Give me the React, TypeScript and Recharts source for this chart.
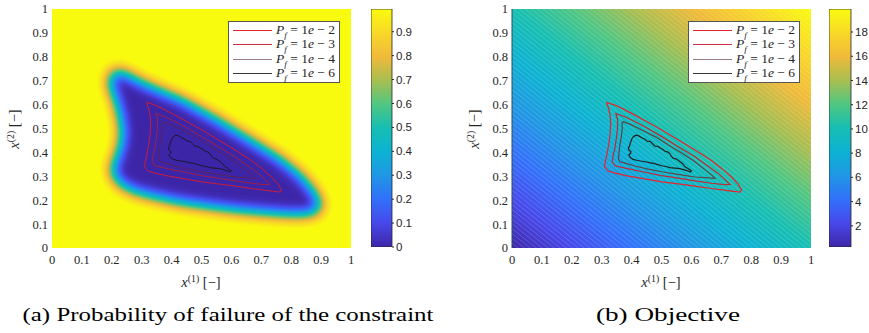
import React from "react";
import { ScatterChart, Scatter, XAxis, YAxis, ReferenceArea, BarChart, Bar } from "recharts";

// axis ticks of both maps
const axisTicks = [0, 0.1, 0.2, 0.3, 0.4, 0.5, 0.6, 0.7, 0.8, 0.9, 1];
// colorbar ticks
const pfTicks = [0, 0.1, 0.2, 0.3, 0.4, 0.5, 0.6, 0.7, 0.8, 0.9];
const objTicks = [2, 4, 6, 8, 10, 12, 14, 16, 18];
const pfBar = [{ k: "Pf", lo: 0, hi: 0.995 }];
const objBar = [{ k: "obj", lo: 0.25, hi: 19.9 }];

// contour levels shown in the legends (P_f = 1e - n)
const levels = ["2", "3", "4", "6"];

const captions = [
  { text: "(a) Probability of failure of the constraint", x: 22.5, len: 411 },
  { text: "(b) Objective", x: 596, len: 144 },
];

// outline of the low failure-probability region (left map, P_f ~ 0.5)
const lowPfRegion = [
  { x: 0.19, y: 0.7 }, { x: 0.2, y: 0.735 }, { x: 0.225, y: 0.745 }, { x: 0.25, y: 0.73 },
  { x: 0.3, y: 0.697 }, { x: 0.35, y: 0.668 }, { x: 0.44, y: 0.62 }, { x: 0.55, y: 0.543 },
  { x: 0.66, y: 0.458 }, { x: 0.76, y: 0.38 }, { x: 0.83, y: 0.31 }, { x: 0.875, y: 0.245 },
  { x: 0.9, y: 0.19 }, { x: 0.895, y: 0.155 }, { x: 0.865, y: 0.138 }, { x: 0.8, y: 0.136 },
  { x: 0.72, y: 0.143 }, { x: 0.63, y: 0.153 }, { x: 0.54, y: 0.166 }, { x: 0.43, y: 0.186 },
  { x: 0.34, y: 0.21 }, { x: 0.275, y: 0.232 }, { x: 0.23, y: 0.26 }, { x: 0.205, y: 0.295 },
  { x: 0.198, y: 0.33 }, { x: 0.21, y: 0.37 }, { x: 0.227, y: 0.43 }, { x: 0.232, y: 0.48 },
  { x: 0.226, y: 0.54 }, { x: 0.212, y: 0.61 }, { x: 0.197, y: 0.66 },
];

// P_f = 1e-2 contour
const contour2 = [
  { x: 0.317, y: 0.609 }, { x: 0.344, y: 0.598 }, { x: 0.375, y: 0.58 }, { x: 0.411, y: 0.556 },
  { x: 0.455, y: 0.526 }, { x: 0.501, y: 0.494 }, { x: 0.555, y: 0.453 }, { x: 0.612, y: 0.41 },
  { x: 0.66, y: 0.372 }, { x: 0.701, y: 0.333 }, { x: 0.735, y: 0.296 }, { x: 0.757, y: 0.266 },
  { x: 0.768, y: 0.242 }, { x: 0.762, y: 0.234 }, { x: 0.723, y: 0.24 }, { x: 0.667, y: 0.249 },
  { x: 0.612, y: 0.259 }, { x: 0.556, y: 0.268 }, { x: 0.501, y: 0.277 }, { x: 0.445, y: 0.289 },
  { x: 0.389, y: 0.301 }, { x: 0.345, y: 0.313 }, { x: 0.322, y: 0.322 }, { x: 0.309, y: 0.34 },
  { x: 0.312, y: 0.36 }, { x: 0.317, y: 0.389 }, { x: 0.323, y: 0.43 }, { x: 0.328, y: 0.473 },
  { x: 0.33, y: 0.52 }, { x: 0.328, y: 0.556 }, { x: 0.323, y: 0.585 }, { x: 0.318, y: 0.6 },
];

// P_f = 1e-3 contour
const contour3 = [
  { x: 0.347, y: 0.563 }, { x: 0.38, y: 0.548 }, { x: 0.411, y: 0.529 }, { x: 0.455, y: 0.5 },
  { x: 0.501, y: 0.466 }, { x: 0.555, y: 0.425 }, { x: 0.612, y: 0.382 }, { x: 0.655, y: 0.343 },
  { x: 0.69, y: 0.312 }, { x: 0.715, y: 0.283 }, { x: 0.729, y: 0.266 }, { x: 0.71, y: 0.265 },
  { x: 0.668, y: 0.271 }, { x: 0.612, y: 0.281 }, { x: 0.556, y: 0.292 }, { x: 0.5, y: 0.303 },
  { x: 0.445, y: 0.317 }, { x: 0.39, y: 0.331 }, { x: 0.344, y: 0.344 }, { x: 0.335, y: 0.361 },
  { x: 0.338, y: 0.385 }, { x: 0.344, y: 0.417 }, { x: 0.349, y: 0.46 }, { x: 0.353, y: 0.501 },
  { x: 0.353, y: 0.54 },
];

// P_f = 1e-4 contour
const contour4 = [
  { x: 0.372, y: 0.529 }, { x: 0.4, y: 0.515 }, { x: 0.434, y: 0.494 }, { x: 0.48, y: 0.465 },
  { x: 0.523, y: 0.431 }, { x: 0.57, y: 0.395 }, { x: 0.612, y: 0.361 }, { x: 0.645, y: 0.328 },
  { x: 0.668, y: 0.305 }, { x: 0.679, y: 0.292 }, { x: 0.66, y: 0.293 }, { x: 0.612, y: 0.297 },
  { x: 0.555, y: 0.308 }, { x: 0.501, y: 0.319 }, { x: 0.455, y: 0.33 }, { x: 0.411, y: 0.343 },
  { x: 0.375, y: 0.356 }, { x: 0.361, y: 0.361 }, { x: 0.356, y: 0.372 }, { x: 0.358, y: 0.4 },
  { x: 0.361, y: 0.431 }, { x: 0.366, y: 0.47 }, { x: 0.369, y: 0.501 }, { x: 0.368, y: 0.522 },
];

// P_f = 1e-6 contour (noisy)
const contour6 = [
  { x: 0.406, y: 0.466 }, { x: 0.415, y: 0.472 }, { x: 0.424, y: 0.469 }, { x: 0.432, y: 0.462 },
  { x: 0.445, y: 0.455 }, { x: 0.452, y: 0.447 }, { x: 0.462, y: 0.446 }, { x: 0.47, y: 0.436 },
  { x: 0.478, y: 0.426 }, { x: 0.488, y: 0.425 }, { x: 0.495, y: 0.419 }, { x: 0.505, y: 0.412 },
  { x: 0.512, y: 0.405 }, { x: 0.52, y: 0.402 }, { x: 0.528, y: 0.395 }, { x: 0.532, y: 0.385 },
  { x: 0.539, y: 0.376 }, { x: 0.548, y: 0.373 }, { x: 0.556, y: 0.367 }, { x: 0.563, y: 0.36 },
  { x: 0.57, y: 0.354 }, { x: 0.575, y: 0.346 }, { x: 0.579, y: 0.34 }, { x: 0.587, y: 0.334 },
  { x: 0.595, y: 0.327 }, { x: 0.6, y: 0.322 }, { x: 0.596, y: 0.318 }, { x: 0.588, y: 0.322 },
  { x: 0.579, y: 0.326 }, { x: 0.568, y: 0.33 }, { x: 0.556, y: 0.333 }, { x: 0.545, y: 0.334 },
  { x: 0.528, y: 0.336 }, { x: 0.515, y: 0.341 }, { x: 0.501, y: 0.344 }, { x: 0.488, y: 0.349 },
  { x: 0.473, y: 0.354 }, { x: 0.46, y: 0.357 }, { x: 0.445, y: 0.361 }, { x: 0.43, y: 0.364 },
  { x: 0.417, y: 0.367 }, { x: 0.405, y: 0.371 }, { x: 0.398, y: 0.376 }, { x: 0.393, y: 0.383 },
  { x: 0.391, y: 0.39 }, { x: 0.397, y: 0.397 }, { x: 0.398, y: 0.404 }, { x: 0.391, y: 0.41 },
  { x: 0.389, y: 0.418 }, { x: 0.393, y: 0.426 }, { x: 0.395, y: 0.437 }, { x: 0.398, y: 0.447 },
  { x: 0.401, y: 0.457 },
];

const contours = [contour2, contour3, contour4, contour6];
const legendColors = ["#e8222c", "#cc3040", "#9a7a7e", "#383838"];
const lineColorsPf = ["#d81c2c", "#a8203c", "#5c2250", "#161616"];
const lineColorsObj = ["#e8222c", "#c02834", "#5a4448", "#202020"];

// parula colour map, 11 stops
const parulaR = [62, 71, 50, 32, 12, 22, 80, 168, 240, 248, 249];
const parulaG = [38, 72, 112, 150, 178, 190, 198, 190, 186, 216, 251];
const parulaB = [168, 234, 250, 228, 210, 178, 130, 80, 58, 40, 14];
const parulaHex = parulaR.map(
  (r, i) => "#" + [r, parulaG[i], parulaB[i]].map((c) => c.toString(16).padStart(2, "0")).join("")
);
const table = (arr: number[]) => arr.map((c) => (c / 255).toFixed(3)).join(" ");

const SERIF = "'Liberation Serif', 'DejaVu Serif', serif";
const SANS = "'Liberation Sans', Arial, sans-serif";
const INK = "#262626";

const noDot = () => null;

function Defs() {
  return (
    <svg width={0} height={0} style={{ position: "absolute" }}>
      <defs>
        <linearGradient id="parulaV" x1="0" y1="1" x2="0" y2="0">
          {parulaHex.map((c, i) => (
            <stop key={i} offset={i / 10} stopColor={c} />
          ))}
        </linearGradient>
        <linearGradient id="objGrad" x1="0" y1="1" x2="1" y2="0">
          {parulaHex.map((c, i) => (
            <stop key={i} offset={i / 10} stopColor={c} />
          ))}
        </linearGradient>
        <pattern id="objHatch" patternUnits="userSpaceOnUse" width="6" height="4.796">
          <path
            d="M-6,-4.796L12,9.592M0,-4.796L18,9.592M-12,-4.796L6,9.592"
            stroke="#ffffff"
            strokeOpacity={0.32}
            strokeWidth={0.6}
          />
        </pattern>
        <filter id="pfBlob" x="-30%" y="-30%" width="160%" height="160%" colorInterpolationFilters="sRGB">
          <feGaussianBlur in="SourceAlpha" stdDeviation="7" />
          <feColorMatrix type="matrix" values="0 0 0 -1 1  0 0 0 -1 1  0 0 0 -1 1  0 0 0 1 0" />
          <feComponentTransfer>
            <feFuncR type="table" tableValues={table(parulaR)} />
            <feFuncG type="table" tableValues={table(parulaG)} />
            <feFuncB type="table" tableValues={table(parulaB)} />
            <feFuncA type="linear" slope="25" intercept="0" />
          </feComponentTransfer>
        </filter>
      </defs>
    </svg>
  );
}

const blobLine = (p: any) => (
  <g filter="url(#pfBlob)">
    <polygon points={p.points.map((pt: any) => `${pt.x},${pt.y}`).join(" ")} fill="#000" stroke="none" />
  </g>
);

function MathLabel({ idx }: { idx: number }) {
  return (
    <span>
      <i>x</i>
      <span style={{ fontSize: "0.68em", verticalAlign: "0.5em", lineHeight: 0 }}>({idx})</span> [−]
    </span>
  );
}

function Legend({ left, top }: { left: number; top: number }) {
  return (
    <div
      style={{
        position: "absolute", left, top, width: 110, height: 60, background: "#fff",
        border: "1px solid #555", fontFamily: SERIF, fontSize: 13.5, color: INK,
      }}
    >
      {levels.map((lv, i) => (
        <div key={lv} style={{ position: "absolute", left: 0, top: 1 + i * 14.4, height: 14, width: 110 }}>
          <div style={{ position: "absolute", left: 4, top: 7, width: 39, height: 0, borderTop: `1.2px solid ${legendColors[i]}` }} />
          <div style={{ position: "absolute", left: 47, top: -1, whiteSpace: "nowrap", lineHeight: "15px" }}>
            <i>P</i>
            <sub style={{ fontSize: "0.68em", lineHeight: 0 }}><i>f</i></sub> = 1<i>e</i> − {lv}
          </div>
        </div>
      ))}
    </div>
  );
}

function MapChart({ kind }: { kind: "pf" | "obj" }) {
  const tickStyle = { fill: INK, fontSize: 12.5, fontFamily: SERIF };
  const lw = kind === "pf" ? 0.9 : 1.2;
  const colors = kind === "pf" ? lineColorsPf : lineColorsObj;
  return (
    <ScatterChart width={360} height={300} margin={{ top: 9, right: 9, bottom: 22, left: 12 }}>
      <XAxis type="number" dataKey="x" domain={[0, 1]} allowDataOverflow ticks={axisTicks}
        tickSize={0} tickMargin={7} axisLine={false} height={30} tick={tickStyle} />
      <YAxis type="number" dataKey="y" domain={[0, 1]} allowDataOverflow ticks={axisTicks}
        tickSize={0} tickMargin={4} width={40} tick={tickStyle}
        axisLine={kind === "obj" ? { stroke: "#24505a", strokeWidth: 1 } : false} />
      {kind === "pf" ? (
        <ReferenceArea x1={0} x2={1} y1={0} y2={1} fill={parulaHex[10]} fillOpacity={1} stroke="none" />
      ) : (
        <ReferenceArea x1={0} x2={1} y1={0} y2={1} fill="url(#objGrad)" fillOpacity={1} stroke="none" />
      )}
      {kind === "obj" && (
        <ReferenceArea x1={0} x2={1} y1={0} y2={1} fill="url(#objHatch)" fillOpacity={1} stroke="none" />
      )}
      {kind === "pf" && (
        <Scatter data={lowPfRegion} shape={noDot} line={blobLine} isAnimationActive={false} />
      )}
      {contours.map((c, i) => (
        <Scatter key={i} data={c} shape={noDot} lineJointType="linearClosed"
          line={{ stroke: colors[i], strokeWidth: lw }} isAnimationActive={false} />
      ))}
    </ScatterChart>
  );
}

function ColorBar({ data, ticks, width, axisW }: { data: any[]; ticks: number[]; width: number; axisW: number }) {
  return (
    <BarChart width={width} height={300} data={data} margin={{ top: 9, right: 0, bottom: 53, left: 0 }} barCategoryGap={0}>
      <XAxis dataKey="k" hide />
      <YAxis orientation="right" type="number" width={axisW} domain={[data[0].lo, data[0].hi]} allowDataOverflow
        ticks={ticks} tickSize={2} tickMargin={2} axisLine={false} tickLine={{ stroke: INK }}
        tick={{ fill: INK, fontSize: 11.5, fontFamily: SANS }} />
      <Bar dataKey={(d: any) => [d.lo, d.hi]} fill="url(#parulaV)" stroke={INK} strokeWidth={0.8} isAnimationActive={false} />
    </BarChart>
  );
}

export default function App() {
  const axisTitle = { position: "absolute" as const, fontFamily: SERIF, fontSize: 14.5, color: INK, whiteSpace: "nowrap" as const };
  return (
    <div style={{ position: "absolute", left: 0, top: 0, width: 869, height: 333, background: "#fff", overflow: "hidden" }}>
      <Defs />
      <div style={{ position: "absolute", left: 0, top: 0 }}>
        <MapChart kind="pf" />
      </div>
      <div style={{ position: "absolute", left: 460, top: 0 }}>
        <MapChart kind="obj" />
      </div>
      <div style={{ position: "absolute", left: 371, top: 0 }}>
        <ColorBar data={pfBar} ticks={pfTicks} width={60} axisW={39} />
      </div>
      <div style={{ position: "absolute", left: 829, top: 0 }}>
        <ColorBar data={objBar} ticks={objTicks} width={40} axisW={18} />
      </div>
      <Legend left={228} top={21} />
      <Legend left={688} top={21} />

      <div style={{ ...axisTitle, left: 201, top: 282, transform: "translate(-50%,-50%)" }}>
        <MathLabel idx={1} />
      </div>
      <div style={{ ...axisTitle, left: 661, top: 282, transform: "translate(-50%,-50%)" }}>
        <MathLabel idx={1} />
      </div>
      <div style={{ ...axisTitle, left: 14, top: 129, transform: "translate(-50%,-50%) rotate(-90deg)" }}>
        <MathLabel idx={2} />
      </div>
      <div style={{ ...axisTitle, left: 474, top: 129, transform: "translate(-50%,-50%) rotate(-90deg)" }}>
        <MathLabel idx={2} />
      </div>

      <svg width={869} height={37} style={{ position: "absolute", left: 0, top: 296 }}>
        {captions.map((c) => (
          <text key={c.text} x={c.x} y={25} textLength={c.len} lengthAdjust="spacingAndGlyphs"
            fontFamily={SERIF} fontSize={19.5} fill="#000">
            {c.text}
          </text>
        ))}
      </svg>
    </div>
  );
}
